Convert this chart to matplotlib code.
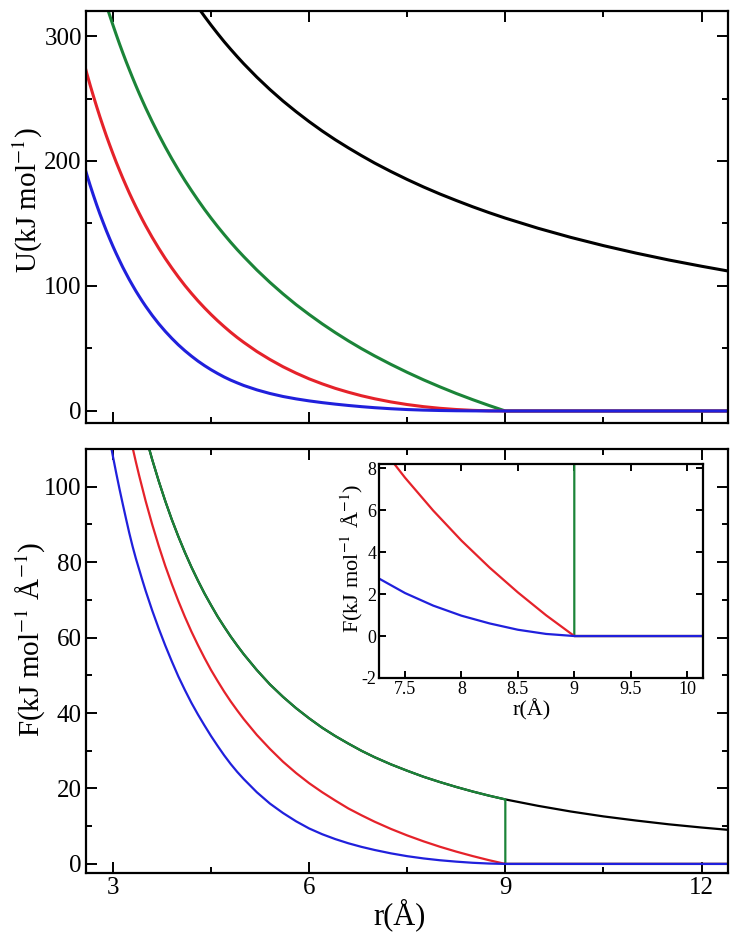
import matplotlib
matplotlib.use('Agg')
import matplotlib.pyplot as plt
from matplotlib.ticker import FormatStrFormatter, MultipleLocator

plt.rcParams['font.family'] = ['Liberation Serif', 'DejaVu Serif']
plt.rcParams['mathtext.fontset'] = 'stix'
plt.rcParams['axes.unicode_minus'] = False

# distance grid (A); the truncated potentials stop at the 9 A cut-off
r = [2.55, 2.6, 2.65, 2.7, 2.75, 2.8, 2.85, 2.9, 2.95, 3.0, 3.05, 3.1, 3.15, 3.2, 3.25,
     3.3, 3.35, 3.4, 3.45, 3.5, 3.6, 3.7, 3.8, 3.9, 4.0, 4.1, 4.2, 4.3, 4.4, 4.5,
     4.6, 4.7, 4.8, 4.9, 5.0, 5.2, 5.4, 5.6, 5.8, 6.0, 6.2, 6.4, 6.6, 6.8, 7.0,
     7.25, 7.5, 7.75, 8.0, 8.25, 8.5, 8.75, 9.0, 9.5, 10.0, 10.5, 11.0, 11.5, 12.0, 12.5]
r_cut = r[:r.index(9.0) + 1]
r_tail = [9.0, 12.5]
zero_tail = [0.0, 0.0]

# plain coulomb (black)
u_coul = [544.7, 534.2, 524.2, 514.4, 505.1, 496.1, 487.4, 479.0, 470.8, 463.0, 455.4,
          448.1, 441.0, 434.1, 427.4, 420.9, 414.6, 408.5, 402.6, 396.9, 385.8, 375.4,
          365.5, 356.2, 347.2, 338.8, 330.7, 323.0, 315.7, 308.7, 302.0, 295.5, 289.4,
          283.5, 277.8, 267.1, 257.2, 248.0, 239.5, 231.5, 224.0, 217.0, 210.5, 204.3,
          198.4, 191.6, 185.2, 179.2, 173.6, 168.4, 163.4, 158.7, 154.3, 146.2, 138.9,
          132.3, 126.3, 120.8, 115.8, 111.1]
f_coul = [213.6, 205.5, 197.8, 190.5, 183.7, 177.2, 171.0, 165.2, 159.6, 154.3, 149.3,
          144.5, 140.0, 135.6, 131.5, 127.5, 123.8, 120.2, 116.7, 113.4, 107.2, 101.5,
          96.2, 91.3, 86.8, 82.6, 78.7, 75.1, 71.7, 68.6, 65.6, 62.9, 60.3, 57.9, 55.6,
          51.4, 47.6, 44.3, 41.3, 38.6, 36.1, 33.9, 31.9, 30.0, 28.3, 26.4, 24.7, 23.1,
          21.7, 20.4, 19.2, 18.1, 17.1, 15.4, 13.9, 12.6, 11.5, 10.5, 9.65, 8.89]

# green
u_green = [390.4, 379.9, 369.8, 360.1, 350.8, 341.7, 333.0, 324.6, 316.5, 308.7, 301.1,
           293.7, 286.6, 279.7, 273.1, 266.6, 260.3, 254.2, 248.3, 242.5, 231.5, 221.1,
           211.2, 201.8, 192.9, 184.4, 176.4, 168.7, 161.3, 154.3, 147.6, 141.2, 135.0,
           129.1, 123.5, 112.8, 102.9, 93.7, 85.1, 77.2, 69.7, 62.7, 56.1, 49.9, 44.1,
           37.3, 30.9, 24.9, 19.3, 14.0, 9.08, 4.41, 0.00]
f_green = [213.6, 205.5, 197.8, 190.5, 183.7, 177.2, 171.0, 165.2, 159.6, 154.3, 149.3,
           144.5, 140.0, 135.6, 131.5, 127.5, 123.8, 120.2, 116.7, 113.4, 107.2, 101.5,
           96.2, 91.3, 86.8, 82.6, 78.7, 75.1, 71.7, 68.6, 65.6, 62.9, 60.3, 57.9, 55.6,
           51.4, 47.6, 44.3, 41.3, 38.6, 36.1, 33.9, 31.9, 30.0, 28.3, 26.4, 24.7, 23.1,
           21.7, 20.4, 19.2, 18.1, 17.1]

# red
u_red = [279.8, 270.1, 260.9, 252.1, 243.6, 235.4, 227.6, 220.0, 212.8, 205.8, 199.0,
         192.6, 186.3, 180.3, 174.4, 168.8, 163.4, 158.2, 153.1, 148.2, 138.9, 130.2,
         122.0, 114.4, 107.2, 100.4, 94.1, 88.1, 82.5, 77.2, 72.2, 67.5, 63.0, 58.8,
         54.9, 47.6, 41.2, 35.4, 30.3, 25.7, 21.7, 18.1, 15.0, 12.2, 9.80, 7.24, 5.14,
         3.46, 2.14, 1.17, 0.50, 0.12, 0.00]
f_red = [196.5, 188.3, 180.6, 173.4, 166.5, 160.0, 153.9, 148.0, 142.5, 137.2, 132.2,
         127.4, 122.8, 118.5, 114.4, 110.4, 106.6, 103.0, 99.6, 96.2, 90.0, 84.3, 79.0,
         74.2, 69.7, 65.5, 61.6, 58.0, 54.6, 51.4, 48.5, 45.7, 43.1, 40.7, 38.4, 34.2,
         30.5, 27.1, 24.1, 21.4, 19.0, 16.8, 14.7, 12.9, 11.2, 9.28, 7.55, 5.98, 4.55,
         3.26, 2.08, 0.99, 0.00]

# blue
u_blue = [197.9, 189.1, 180.7, 172.7, 165.0, 157.7, 150.8, 144.1, 137.8, 131.7, 125.9,
          120.4, 115.0, 110.0, 105.1, 100.5, 96.0, 91.8, 87.7, 83.8, 76.5, 69.8, 63.7,
          58.1, 52.9, 48.2, 43.9, 39.9, 36.3, 33.0, 30.0, 27.2, 24.7, 22.5, 20.4, 16.9,
          14.0, 11.6, 9.69, 8.07, 6.69, 5.48, 4.41, 3.46, 2.64, 1.80, 1.15, 0.69, 0.38,
          0.19, 0.08, 0.02, 0.00]
f_blue = [159.0, 152.0, 145.3, 139.0, 133.2, 127.7, 122.5, 117.5, 112.6, 108.0, 103.6,
          99.4, 95.4, 91.5, 87.7, 84.2, 81.0, 78.1, 75.2, 72.4, 67.2, 62.4, 57.9, 53.7,
          49.7, 46.1, 42.7, 39.6, 36.7, 33.9, 31.3, 28.8, 26.5, 24.4, 22.5, 19.0, 16.0,
          13.5, 11.3, 9.40, 7.87, 6.58, 5.47, 4.52, 3.70, 2.80, 2.05, 1.45, 0.97, 0.60,
          0.30, 0.10, 0.00]

GREEN = '#1b8438'
RED = '#e5222a'
BLUE = '#2020dc'


def style(ax, major, minor, tl, size):
    ax.tick_params(which='both', direction='in', top=True, right=True, width=1.4)
    ax.tick_params(which='major', length=tl, labelsize=size, pad=3)
    ax.tick_params(which='minor', length=tl * 0.55)
    ax.xaxis.set_major_locator(MultipleLocator(major[0]))
    ax.yaxis.set_major_locator(MultipleLocator(major[1]))
    if minor:
        ax.xaxis.set_minor_locator(MultipleLocator(minor[0]))
        ax.yaxis.set_minor_locator(MultipleLocator(minor[1]))
    for s in ax.spines.values():
        s.set_linewidth(1.6)
    ax.xaxis.set_major_formatter(FormatStrFormatter('%g'))
    ax.yaxis.set_major_formatter(FormatStrFormatter('%g'))


def forces(ax, lw):
    ax.plot(r, f_coul, color='black', lw=lw)
    ax.plot(r_cut + r_tail, f_green + zero_tail, color=GREEN, lw=lw)
    ax.plot(r_cut + r_tail, f_red + zero_tail, color=RED, lw=lw)
    ax.plot(r_cut + r_tail, f_blue + zero_tail, color=BLUE, lw=lw)


fig = plt.figure(figsize=(7.41, 9.41), dpi=100)

# top: potentials
ax1 = fig.add_axes([0.116, 0.5505, 0.866, 0.4378])
ax1.plot(r, u_coul, color='black', lw=2.2)
ax1.plot(r_cut + r_tail, u_green + zero_tail, color=GREEN, lw=2.2)
ax1.plot(r_cut + r_tail, u_red + zero_tail, color=RED, lw=2.2)
ax1.plot(r_cut + r_tail, u_blue + zero_tail, color=BLUE, lw=2.2)
ax1.set_xlim(2.587, 12.4)
ax1.set_ylim(-9.6, 320)
style(ax1, (3, 100), (1.5, 50), 8, 18)
ax1.tick_params(labelbottom=False)
ax1.set_ylabel('U(kJ mol$^{-1}$)', fontsize=21, va='center')
ax1.yaxis.set_label_coords(-0.09, 0.54)

# bottom: forces
ax2 = fig.add_axes([0.116, 0.0723, 0.866, 0.4505])
forces(ax2, 1.6)
ax2.set_xlim(2.587, 12.4)
ax2.set_ylim(-2.4, 110)
style(ax2, (3, 20), (1.5, 10), 8, 18)
ax2.set_ylabel('F(kJ mol$^{-1}$ Å$^{-1}$)', fontsize=21, va='center')
ax2.yaxis.set_label_coords(-0.085, 0.55)
ax2.set_xlabel('r(Å)', fontsize=22, va='center')
ax2.xaxis.set_label_coords(0.489, -0.099)

# inset: close-up around the cut-off
ax3 = fig.add_axes([0.5115, 0.2795, 0.4372, 0.2274])
ax3.set_facecolor('white')
forces(ax3, 1.6)
ax3.set_xlim(7.27, 10.14)
ax3.set_ylim(-2, 8.2)
style(ax3, (0.5, 2), None, 5, 13)
ax3.tick_params(pad=2)
ax3.set_ylabel('F(kJ mol$^{-1}$ Å$^{-1}$)', fontsize=16, va='center')
ax3.yaxis.set_label_coords(-0.085, 0.56)
ax3.set_xlabel('r(Å)', fontsize=16, va='center')
ax3.xaxis.set_label_coords(0.472, -0.15)

fig.savefig('out.png', dpi=100)
